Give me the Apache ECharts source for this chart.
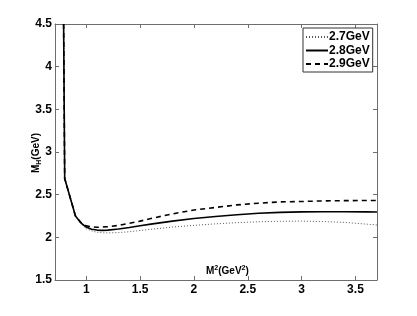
<!DOCTYPE html>
<html>
<head>
<meta charset="utf-8">
<script src="https://cdn.jsdelivr.net/npm/echarts@6/dist/echarts.min.js"></script>
<style>
html,body{margin:0;padding:0;background:#fff;}
#chart{width:417px;height:316px;}
</style>
</head>
<body>
<div id="chart"></div>
<script>
var xValues = [0.79, 0.80, 0.85, 0.90, 0.95, 1.0, 1.05, 1.1, 1.15, 1.2, 1.3, 1.4, 1.5, 1.6, 1.8, 2.0, 2.2, 2.4, 2.6, 2.8, 3.0, 3.2, 3.4, 3.6, 3.7];
var y27 = [4.5, 2.69, 2.47, 2.25, 2.16, 2.10, 2.075, 2.06, 2.053, 2.052, 2.056, 2.066, 2.08, 2.094, 2.12, 2.14, 2.158, 2.172, 2.182, 2.188, 2.19, 2.185, 2.175, 2.155, 2.145];
var y28 = [4.5, 2.69, 2.47, 2.25, 2.17, 2.12, 2.095, 2.085, 2.082, 2.085, 2.097, 2.115, 2.135, 2.155, 2.19, 2.22, 2.245, 2.265, 2.282, 2.292, 2.298, 2.30, 2.30, 2.298, 2.296];
var y29 = [4.5, 2.69, 2.47, 2.25, 2.175, 2.135, 2.122, 2.118, 2.12, 2.125, 2.14, 2.165, 2.19, 2.22, 2.275, 2.32, 2.35, 2.38, 2.40, 2.415, 2.42, 2.427, 2.43, 2.432, 2.432];
var seriesNames = ['2.7GeV', '2.8GeV', '2.9GeV'];
var xTicks = [1, 1.5, 2, 2.5, 3, 3.5];
var yTicks = [1.5, 2, 2.5, 3, 3.5, 4, 4.5];

function pairs(ys){ return xValues.map(function(x,i){ return [x, ys[i]]; }); }

var chart = echarts.init(document.getElementById('chart'), null, {renderer:'canvas'});
var font = '"Liberation Sans", Arial, Helvetica, sans-serif';
var axisColor = '#6e6e6e';
var option = {
  animation: false,
  backgroundColor: '#fff',
  grid: {left: 55, top: 24, right: 40, bottom: 36, containLabel: false},
  xAxis: [{
    type: 'value', min: 0.71, max: 3.7,
    axisLine: {show: true, lineStyle: {color: axisColor, width: 1}},
    axisTick: {show: true, inside: true, length: 4, customValues: xTicks, lineStyle: {color: axisColor}},
    axisLabel: {show: true, customValues: xTicks, margin: 4, color: '#000', fontFamily: font, fontWeight: 'bold', fontSize: 12,
      formatter: function(v){ return String(v); }},
    splitLine: {show: false}
  },{
    type: 'value', min: 0.71, max: 3.7, position: 'top',
    axisLine: {show: true, lineStyle: {color: axisColor, width: 1}},
    axisTick: {show: true, inside: true, length: 4, customValues: xTicks, lineStyle: {color: axisColor}},
    axisLabel: {show: false},
    splitLine: {show: false}
  }],
  yAxis: [{
    type: 'value', min: 1.5, max: 4.5, interval: 0.5,
    axisLine: {show: true, lineStyle: {color: axisColor, width: 1}},
    axisTick: {show: true, inside: true, length: 4, lineStyle: {color: axisColor}},
    axisLabel: {show: true, margin: 3, color: '#000', fontFamily: font, fontWeight: 'bold', fontSize: 12,
      formatter: function(v){ return String(v); }},
    splitLine: {show: false}
  },{
    type: 'value', min: 1.5, max: 4.5, interval: 0.5, position: 'right',
    axisLine: {show: true, lineStyle: {color: axisColor, width: 1}},
    axisTick: {show: true, inside: true, length: 4, lineStyle: {color: axisColor}},
    axisLabel: {show: false},
    splitLine: {show: false}
  }],
  legend: {
    show: true, orient: 'vertical', left: 303, top: 28,
    data: seriesNames,
    itemWidth: 22, itemHeight: 12, itemGap: 1.5,
    padding: [3, 3, 2, 2],
    borderColor: '#333', borderWidth: 1, backgroundColor: '#fff',
    itemStyle: {opacity: 0},
    textStyle: {fontFamily: font, fontWeight: 'bold', fontSize: 12, color: '#000', padding: [0,0,0,-4]}
  },
  graphic: [{
    type: 'text', left: 206, top: 265,
    style: {
      text: '{a|M}{s|2}{a|(GeV}{s|2}{a|)}',
      rich: {
        a: {fontFamily: font, fontWeight: 'bold', fontSize: 10, fill: '#000', lineHeight: 12, verticalAlign: 'middle'},
        s: {fontFamily: font, fontWeight: 'bold', fontSize: 7, fill: '#000', verticalAlign: 'top'}
      }
    }
  },{
    type: 'text', x: 36, y: 153, rotation: Math.PI / 2,
    style: {
      text: '{a|M}{b|H}{a|(GeV)}',
      align: 'center', verticalAlign: 'middle',
      rich: {
        a: {fontFamily: font, fontWeight: 'bold', fontSize: 10, fill: '#000', lineHeight: 13, verticalAlign: 'middle'},
        b: {fontFamily: font, fontWeight: 'bold', fontSize: 7, fill: '#000', verticalAlign: 'bottom'}
      }
    }
  }],
  series: [{
    name: seriesNames[0], type: 'line', data: pairs(y27), symbol: 'none', showSymbol: false,
    lineStyle: {color: '#555', width: 1, type: [1, 2]}, itemStyle: {color: '#555'}
  },{
    name: seriesNames[1], type: 'line', data: pairs(y28), symbol: 'none', showSymbol: false,
    lineStyle: {color: '#000', width: 1.6, type: 'solid'}, itemStyle: {color: '#000'}
  },{
    name: seriesNames[2], type: 'line', data: pairs(y29), symbol: 'none', showSymbol: false,
    lineStyle: {color: '#000', width: 1.6, type: [5, 4]}, itemStyle: {color: '#000'}
  }]
};
chart.setOption(option);
</script>
</body>
</html>
